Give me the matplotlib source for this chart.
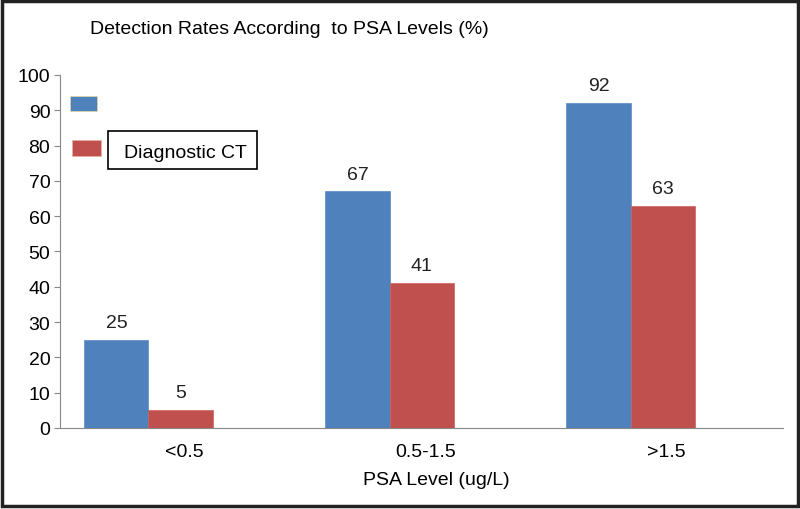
import matplotlib.pyplot as plt
import numpy as np
from matplotlib.patches import Rectangle

# data
psa_levels = ['<0.5', '0.5-1.5', '>1.5']
pet_rates = [25, 67, 92]
ct_rates = [5, 41, 63]

blue = '#4F81BD'
red = '#C0504D'
fs = 14

plt.rcParams['font.family'] = ['Liberation Sans', 'DejaVu Sans']

fig = plt.figure(figsize=(8, 5.1), dpi=100)
ax = fig.add_axes([0.075, 0.159, 0.904, 0.692])

ind = np.arange(len(psa_levels))
w = 0.266
# third (empty) slot in each category, so bars sit left of the tick
ax.bar(ind - w, pet_rates, width=w, color=blue, edgecolor='#5A8AC6', linewidth=0.5)
ax.bar(ind, ct_rates, width=w, color=red, edgecolor='#D06060', linewidth=0.5)

for x, v in zip(ind - w, pet_rates):
    ax.text(x, v + 2.5, str(v), ha='center', va='bottom', fontsize=fs, color='#222222')
for x, v in zip(ind, ct_rates):
    ax.text(x, v + 2.5, str(v), ha='center', va='bottom', fontsize=fs, color='#222222')

ax.set_xlim(-0.5, 2.5)
ax.set_ylim(0, 100)
ax.set_yticks(np.arange(0, 101, 10))
ax.set_xticks(ind + 0.015)
ax.set_xticklabels(psa_levels, fontsize=fs)
ax.tick_params(axis='x', length=0, pad=11)
ax.tick_params(axis='y', length=4, width=0.8, color='#888888', labelsize=fs, pad=3)
ax.set_xlabel('PSA Level (ug/L)', fontsize=fs)
ax.xaxis.set_label_coords(0.52, -0.122)

for s in ['top', 'right']:
    ax.spines[s].set_visible(False)
ax.spines['left'].set_color('#888888')
ax.spines['bottom'].set_color('#888888')

# legend drawn by hand to mimic the original
fig.patches.append(Rectangle((70 / 800, 1 - 112 / 510), 27 / 800, 15 / 510,
                             transform=fig.transFigure, facecolor=blue,
                             edgecolor='#E8D8A0', linewidth=0.5))
fig.patches.append(Rectangle((72 / 800, 1 - 157 / 510), 29 / 800, 16 / 510,
                             transform=fig.transFigure, facecolor=red,
                             edgecolor='#E8B0A0', linewidth=0.5))
fig.patches.append(Rectangle((108 / 800, 1 - 170 / 510), 149 / 800, 38 / 510,
                             transform=fig.transFigure, facecolor='white',
                             edgecolor='black', linewidth=1.2))
fig.text(124 / 800, 1 - 154 / 510, 'Diagnostic CT', fontsize=fs, va='center', ha='left')

fig.text(90 / 800, 1 - 30 / 510, 'Detection Rates According  to PSA Levels (%)',
         fontsize=fs, va='center', ha='left')

# outer frame
fig.patches.append(Rectangle((0.003, 0.006), 0.994, 0.99, transform=fig.transFigure,
                             fill=False, edgecolor='#222222', linewidth=2.5))

fig.savefig('out.png', dpi=100)
